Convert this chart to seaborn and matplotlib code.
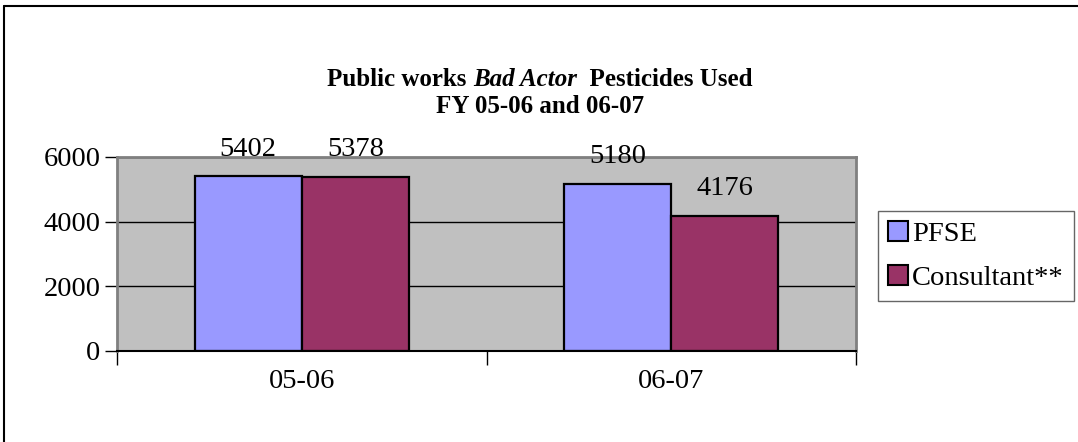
import matplotlib
matplotlib.use("Agg")
import matplotlib.pyplot as plt
import seaborn as sns
import pandas as pd
from matplotlib.patches import Patch
from matplotlib.lines import Line2D

# chart values
years = ["05-06", "06-07"]
pfse = [5402, 5180]
consultant = [5378, 4176]
series = ["PFSE", "Consultant**"]
colors = ["#9999FF", "#993366"]

df = pd.DataFrame({
    "year": years * 2,
    "value": pfse + consultant,
    "series": [series[0]] * 2 + [series[1]] * 2,
})

sns.set_style("white")
plt.rcParams["font.family"] = ["Liberation Serif", "DejaVu Serif"]
plt.rcParams["text.color"] = "black"
plt.rcParams["xtick.color"] = "black"
plt.rcParams["ytick.color"] = "black"

fig = plt.figure(figsize=(10.78, 4.42), dpi=100)
ax = fig.add_axes([117 / 1078, 1 - 351 / 442, (856 - 117) / 1078, (351 - 157) / 442])

sns.barplot(data=df, x="year", y="value", hue="series", palette=colors,
            saturation=1, width=0.58, edgecolor="black", linewidth=1.6,
            ax=ax, legend=False)

ax.set_facecolor("#C0C0C0")
ax.set_ylim(0, 6000)
ax.set_xlim(-0.5, 1.5)
ax.set_yticks([0, 2000, 4000, 6000])
ax.yaxis.grid(True, color="black", linewidth=1)
ax.set_axisbelow(True)
ax.set_xlabel("")
ax.set_ylabel("")
ax.tick_params(axis="y", labelsize=20.5, length=9, width=1, color="black",
               labelcolor="black", pad=3, direction="out", left=True)
ax.tick_params(axis="x", which="major", labelsize=20.5, labelcolor="black", length=0, pad=13)
ax.set_xticks([-0.5, 0.5, 1.5], minor=True)
ax.tick_params(axis="x", which="minor", length=10, width=1, color="black",
               direction="out", bottom=True)

for side in ["top", "right", "left"]:
    ax.spines[side].set_color("#808080")
    ax.spines[side].set_linewidth(2)
ax.spines["bottom"].set_color("black")
ax.spines["bottom"].set_linewidth(1.5)

# value labels
for bars in ax.containers:
    for b in bars:
        h = b.get_height()
        ax.annotate(f"{h:.0f}", (b.get_x() + b.get_width() / 2, h),
                    xytext=(0, 15), textcoords="offset points",
                    ha="center", va="baseline", fontsize=20.5, color="black")

# legend
handles = [Patch(facecolor=c, edgecolor="black", linewidth=1.5) for c in colors]
leg = fig.legend(handles, series, loc="upper left",
                 bbox_to_anchor=(878 / 1078, 1 - 211 / 442),
                 fontsize=20.5, frameon=True, fancybox=False,
                 handlelength=0.7, handleheight=0.7, handletextpad=0.15,
                 labelspacing=0.65, borderpad=0.35, borderaxespad=0)
leg.get_frame().set_edgecolor("#404040")
leg.get_frame().set_linewidth(1)
for t in leg.get_texts():
    t.set_color("black")

# title with mixed styles
fig.canvas.draw()
renderer = fig.canvas.get_renderer()
parts = [("Public works ", "normal"), ("Bad Actor", "italic"), ("  Pesticides Used", "normal")]
texts = []
for s, st in parts:
    texts.append(fig.text(0, 1 - 86 / 442, s, fontsize=18, fontweight="bold",
                          style=st, ha="left", va="baseline", color="black"))
widths = [t.get_window_extent(renderer).width for t in texts]
x0 = 540 - sum(widths) / 2
for t, w in zip(texts, widths):
    t.set_x(x0 / 1078)
    x0 += w
fig.text(540 / 1078, 1 - 113 / 442, "FY 05-06 and 06-07", fontsize=18,
         fontweight="bold", ha="center", va="baseline", color="black")

# outer chart frame (top and left edges visible)
fig.add_artist(Line2D([4 / 1078, 4 / 1078], [0, 1 - 6 / 442], color="black", linewidth=1.5))
fig.add_artist(Line2D([4 / 1078, 1], [1 - 6 / 442, 1 - 6 / 442], color="black", linewidth=1.5))

fig.savefig("out.png", dpi=100)
